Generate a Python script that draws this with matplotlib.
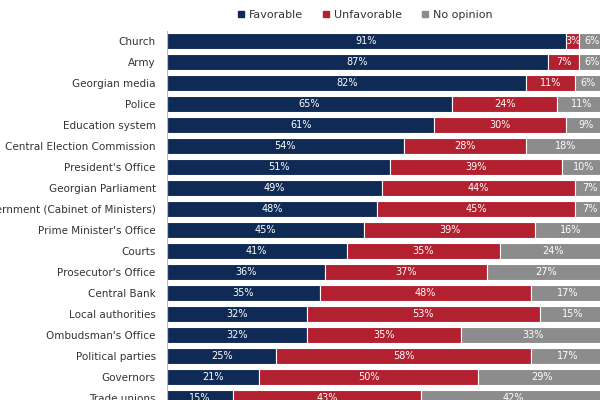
import numpy as np
import matplotlib.pyplot as plt
from matplotlib.lines import Line2D

# datos
instituciones = [
    "Church", "Army", "Georgian media", "Police", "Education system",
    "Central Election Commission", "President's Office", "Georgian Parliament",
    "Government (Cabinet of Ministers)", "Prime Minister's Office", "Courts",
    "Prosecutor's Office", "Central Bank", "Local authorities",
    "Ombudsman's Office", "Political parties", "Governors", "Trade unions",
]
favorable = [91, 87, 82, 65, 61, 54, 51, 49, 48, 45, 41, 36, 35, 32, 32, 25, 21, 15]
unfavorable = [3, 7, 11, 24, 30, 28, 39, 44, 45, 39, 35, 37, 48, 53, 35, 58, 50, 43]
no_opinion = [6, 6, 6, 11, 9, 18, 10, 7, 7, 16, 24, 27, 17, 15, 33, 17, 29, 42]
series = ["Favorable", "Unfavorable", "No opinion"]
colores = ["#0e2a55", "#b3202f", "#8c8c8c"]

fig = plt.figure(figsize=(6, 4), dpi=100)
ax = fig.add_axes([0.278, -0.02125, 0.731, 0.945])

y = np.arange(len(instituciones))
izq = np.zeros(len(instituciones))
for valores, color in zip([favorable, unfavorable, no_opinion], colores):
    valores = np.array(valores, dtype=float)
    ax.barh(y, valores, left=izq, height=0.8, color=color,
            edgecolor="white", linewidth=0.8)
    for yi, l, v in zip(y, izq, valores):
        ax.text(l + v / 2, yi, f"{int(v)}%", ha="center", va="center",
                color="white", fontsize=7)
    izq += valores

ax.set_xlim(0, 100)
ax.set_ylim(len(instituciones) - 0.5, -0.5)
ax.set_yticks(y)
ax.set_yticklabels(instituciones, fontsize=7.5, color="#333333")
ax.tick_params(axis="y", length=0, pad=8)
ax.set_xticks([])
for s in ax.spines.values():
    s.set_visible(False)
ax.axvline(0, color="#bbbbbb", linewidth=0.8)

handles = [Line2D([], [], marker="s", linestyle="none", markersize=4,
                  color=c) for c in colores]
fig.legend(handles, series, loc="center", bbox_to_anchor=(0.607, 0.962),
           ncol=3, frameon=False, fontsize=8, handletextpad=0.2,
           columnspacing=1.6, handlelength=1.0, labelcolor="#333333")

plt.savefig("out.png", dpi=100)
